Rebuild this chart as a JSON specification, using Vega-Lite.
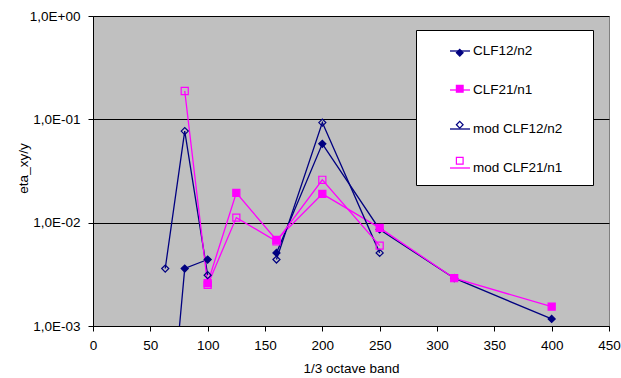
{
  "$schema": "https://vega.github.io/schema/vega-lite/v6.json",
  "autosize": {"type": "none"},
  "width": 516,
  "height": 310,
  "padding": {"left": 93, "top": 16, "right": 12, "bottom": 52},
  "background": "white",
  "config": {
    "font": "Liberation Sans",
    "view": {"fill": "#C0C0C0", "stroke": "#808080", "strokeWidth": 1},
    "axis": {"labelFont": "Liberation Sans", "labelFontSize": 13.5, "labelColor": "black", "titleFont": "Liberation Sans", "titleFontSize": 13.5, "titleFontWeight": "normal", "titleColor": "black", "domainColor": "black", "tickColor": "black", "tickSize": 5}
  },
  "data": {"values": [
    {"series": "CLF12/n2", "band": 63, "value": 0.00003},
    {"series": "CLF12/n2", "band": 80, "value": 0.0036},
    {"series": "CLF12/n2", "band": 100, "value": 0.0044},
    {"series": "CLF12/n2", "band": 125, "value": null},
    {"series": "CLF12/n2", "band": 160, "value": 0.0051},
    {"series": "CLF12/n2", "band": 200, "value": 0.058},
    {"series": "CLF12/n2", "band": 250, "value": 0.0086},
    {"series": "CLF12/n2", "band": 315, "value": 0.0029},
    {"series": "CLF12/n2", "band": 400, "value": 0.00117},
    {"series": "CLF21/n1", "band": 100, "value": 0.0026},
    {"series": "CLF21/n1", "band": 125, "value": 0.0194},
    {"series": "CLF21/n1", "band": 160, "value": 0.0068},
    {"series": "CLF21/n1", "band": 200, "value": 0.019},
    {"series": "CLF21/n1", "band": 250, "value": 0.0089},
    {"series": "CLF21/n1", "band": 315, "value": 0.0029},
    {"series": "CLF21/n1", "band": 400, "value": 0.00154},
    {"series": "mod CLF12/n2", "band": 63, "value": 0.0036},
    {"series": "mod CLF12/n2", "band": 80, "value": 0.077},
    {"series": "mod CLF12/n2", "band": 100, "value": 0.0031},
    {"series": "mod CLF12/n2", "band": 125, "value": null},
    {"series": "mod CLF12/n2", "band": 160, "value": 0.0044},
    {"series": "mod CLF12/n2", "band": 200, "value": 0.093},
    {"series": "mod CLF12/n2", "band": 250, "value": 0.0051},
    {"series": "mod CLF21/n1", "band": 80, "value": 0.188},
    {"series": "mod CLF21/n1", "band": 100, "value": 0.0025},
    {"series": "mod CLF21/n1", "band": 125, "value": 0.0112},
    {"series": "mod CLF21/n1", "band": 160, "value": 0.0066},
    {"series": "mod CLF21/n1", "band": 200, "value": 0.026},
    {"series": "mod CLF21/n1", "band": 250, "value": 0.006}
  ]},
  "encoding": {
    "x": {"field": "band", "type": "quantitative", "title": "1/3 octave band",
      "scale": {"domain": [0, 450], "nice": false},
      "axis": {"values": [0, 50, 100, 150, 200, 250, 300, 350, 400, 450], "grid": false, "labelPadding": 7, "titlePadding": 10, "labelFlush": false}},
    "y": {"field": "value", "type": "quantitative", "title": "eta_xy/y",
      "scale": {"type": "log", "domain": [0.001, 1], "nice": false},
      "axis": {"values": [0.001, 0.01, 0.1, 1], "grid": true, "gridColor": "black", "gridWidth": 1, "gridOpacity": 1, "labelPadding": 8,
        "labelExpr": "'1,0E' + (datum.value >= 1 ? '+00' : '-0' + round(-log(datum.value)/LN10))",
        "titleX": -63, "titleY": 152, "titleAngle": -90, "titleAlign": "center", "titleBaseline": "bottom"}}
  },
  "layer": [
    {
      "mark": {"type": "line", "clip": true, "strokeWidth": 1.3, "invalid": "break-paths-filter-domains"},
      "encoding": {
        "stroke": {"field": "series", "type": "nominal",
          "scale": {"domain": ["CLF12/n2", "CLF21/n1", "mod CLF12/n2", "mod CLF21/n1"], "range": ["#000080", "#FF00FF", "#000080", "#FF00FF"]},
          "legend": {
            "title": "MM", "titleOrient": "right", "titleOpacity": 0, "titleFontSize": 10, "titlePadding": 4,
            "orient": "none", "legendX": 323, "legendY": 14,
            "fillColor": "white", "strokeColor": "black", "padding": 10, "rowPadding": 21,
            "symbolType": "stroke", "symbolSize": 400, "symbolStrokeWidth": 1.3, "symbolOffset": 23, "labelOffset": 2,
            "labelFont": "Liberation Sans", "labelFontSize": 13.5, "labelColor": "black"
          }}
      }
    },
    {
      "mark": {"type": "point", "clip": true, "strokeWidth": 1.2, "opacity": 1},
      "encoding": {
        "color": {"field": "series", "type": "nominal",
          "scale": {"domain": ["CLF12/n2", "CLF21/n1", "mod CLF12/n2", "mod CLF21/n1"], "range": ["#000080", "#FF00FF", "#000080", "#FF00FF"]},
          "legend": {"title": null, "orient": "top-left", "offset": 0, "fillColor": null, "strokeColor": null, "padding": 30, "rowPadding": 21,
            "symbolSize": 45, "symbolStrokeWidth": 1.2, "symbolOffset": 330, "labelOpacity": 0, "labelFontSize": 13.5, "labelFont": "Liberation Sans", "labelExpr": "' '"}},
        "fill": {"field": "series", "type": "nominal",
          "scale": {"domain": ["CLF12/n2", "CLF21/n1", "mod CLF12/n2", "mod CLF21/n1"], "range": ["#000080", "#FF00FF", "transparent", "transparent"]},
          "legend": {"title": null, "orient": "top-left", "offset": 0, "fillColor": null, "strokeColor": null, "padding": 30, "rowPadding": 21,
            "symbolSize": 45, "symbolStrokeWidth": 1.2, "symbolOffset": 330, "labelOpacity": 0, "labelFontSize": 13.5, "labelFont": "Liberation Sans", "labelExpr": "' '"}},
        "shape": {"field": "series", "type": "nominal",
          "scale": {"domain": ["CLF12/n2", "CLF21/n1", "mod CLF12/n2", "mod CLF21/n1"], "range": ["diamond", "square", "diamond", "square"]},
          "legend": {"title": null, "orient": "top-left", "offset": 0, "fillColor": null, "strokeColor": null, "padding": 30, "rowPadding": 21,
            "symbolSize": 45, "symbolStrokeWidth": 1.2, "symbolOffset": 330, "labelOpacity": 0, "labelFontSize": 13.5, "labelFont": "Liberation Sans", "labelExpr": "' '"}},
        "size": {"value": 50}
      }
    }
  ]
}
